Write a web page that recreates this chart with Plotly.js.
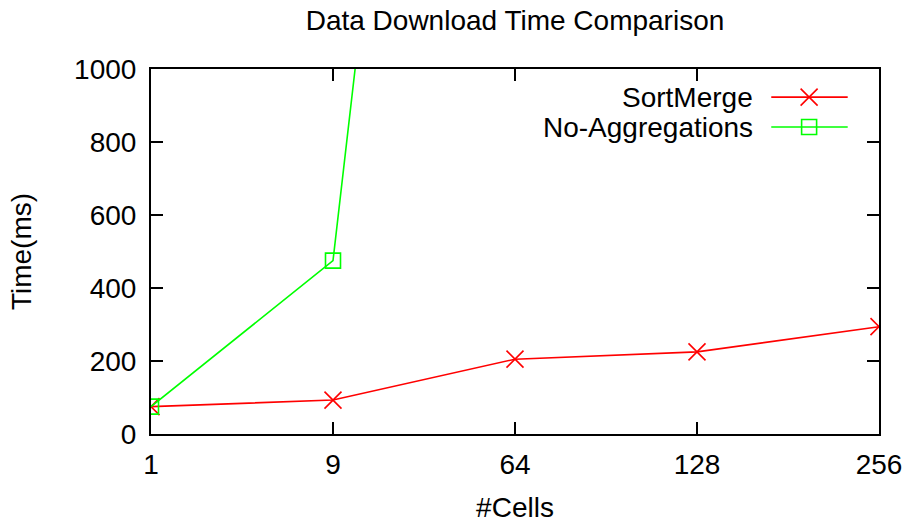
<!DOCTYPE html>
<html>
<head>
<meta charset="utf-8">
<script src="https://cdn.plot.ly/plotly-3.0.1.min.js"></script>
<style>html,body{margin:0;padding:0;background:#fff;}#chart{width:904px;height:523px;}</style>
</head>
<body>
<div id="chart"></div>
<script>
// Data
const cells = ["1", "9", "64", "128", "256"];
const sortMerge = [75, 93, 205, 225, 294];
const noAggCells = ["1", "9", "64"];
const noAggregations = [75, 475, 4800];
const yTicks = [0, 200, 400, 600, 800, 1000];

const FONT = "Liberation Sans, Arial, Helvetica, sans-serif";
const FS = 28;
const RED = "#ff0000";
const GREEN = "#00ff00";

const traces = [
  {
    x: cells, y: sortMerge, name: "SortMerge", type: "scatter", mode: "lines+markers",
    line: {color: RED, width: 1.6},
    marker: {symbol: "x-thin-open", size: 17, color: RED, line: {color: RED, width: 1.6}},
    cliponaxis: true, showlegend: false
  },
  {
    x: noAggCells, y: noAggregations, name: "No-Aggregations", type: "scatter", mode: "lines+markers",
    line: {color: GREEN, width: 1.6},
    marker: {symbol: "square-open", size: 15, color: GREEN, line: {color: GREEN, width: 1.6}},
    cliponaxis: true, showlegend: false
  },
  // legend samples on overlay axis
  {
    x: [0.852, 0.904, 0.957], y: [0.923, 0.923, 0.923], xaxis: "x2", yaxis: "y2",
    type: "scatter", mode: "lines", line: {color: RED, width: 1.6}, showlegend: false, hoverinfo: "skip"
  },
  {
    x: [0.904], y: [0.923], xaxis: "x2", yaxis: "y2",
    type: "scatter", mode: "markers",
    marker: {symbol: "x-thin-open", size: 17, color: RED, line: {color: RED, width: 1.6}},
    showlegend: false, hoverinfo: "skip"
  },
  {
    x: [0.852, 0.904, 0.957], y: [0.841, 0.841, 0.841], xaxis: "x2", yaxis: "y2",
    type: "scatter", mode: "lines", line: {color: GREEN, width: 1.6}, showlegend: false, hoverinfo: "skip"
  },
  {
    x: [0.904], y: [0.841], xaxis: "x2", yaxis: "y2",
    type: "scatter", mode: "markers",
    marker: {symbol: "square-open", size: 15, color: GREEN, line: {color: GREEN, width: 1.6}},
    showlegend: false, hoverinfo: "skip"
  }
];

const layout = {
  width: 904, height: 523,
  margin: {l: 151, r: 25, t: 69, b: 89, pad: 0},
  paper_bgcolor: "#fff", plot_bgcolor: "#fff",
  font: {family: FONT, size: FS, color: "#000"},
  showlegend: false,
  title: {text: "Data Download Time Comparison", font: {family: FONT, size: FS, color: "#000"},
          x: 0.5, xanchor: "center", y: 0.962, yanchor: "middle", xref: "paper"},
  xaxis: {
    type: "category", categoryarray: cells, range: [0, 4],
    showline: true, linecolor: "#000", linewidth: 2, mirror: "allticks",
    ticks: "inside", ticklen: 12, tickwidth: 2, tickcolor: "#000",
    showgrid: false, zeroline: false, ticklabelstandoff: 4,
    tickfont: {family: FONT, size: FS, color: "#000"},
    title: {text: "#Cells", font: {family: FONT, size: FS, color: "#000"}, standoff: 26}
  },
  yaxis: {
    range: [0, 1000], tickvals: yTicks,
    showline: true, linecolor: "#000", linewidth: 2, mirror: "allticks",
    ticks: "inside", ticklen: 12, tickwidth: 2, tickcolor: "#000",
    showgrid: false, zeroline: false, ticklabelstandoff: 7,
    tickfont: {family: FONT, size: FS, color: "#000"},
    title: {text: "Time(ms)", font: {family: FONT, size: FS, color: "#000"}, standoff: 34}
  },
  xaxis2: {overlaying: "x", range: [0, 1], visible: false, fixedrange: true},
  yaxis2: {overlaying: "y", range: [0, 1], visible: false, fixedrange: true},
  annotations: [
    {xref: "paper", yref: "paper", x: 0.830, y: 0.923, xanchor: "right", yanchor: "middle",
     text: "SortMerge", showarrow: false, font: {family: FONT, size: FS, color: "#000"}},
    {xref: "paper", yref: "paper", x: 0.830, y: 0.841, xanchor: "right", yanchor: "middle",
     text: "No-Aggregations", showarrow: false, font: {family: FONT, size: FS, color: "#000"}}
  ]
};

Plotly.newPlot("chart", traces, layout, {displayModeBar: false, staticPlot: true});
</script>
</body>
</html>
